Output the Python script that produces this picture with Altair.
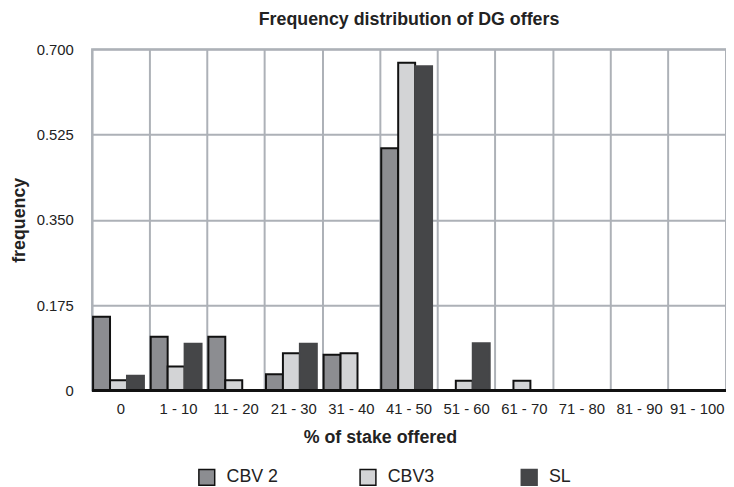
import altair as alt
import pandas as pd

categories = ["0", "1 - 10", "11 - 20", "21 - 30", "31 - 40", "41 - 50",
              "51 - 60", "61 - 70", "71 - 80", "81 - 90", "91 - 100"]
series = ["CBV 2", "CBV3", "SL"]
cbv2 = [0.151, 0.110, 0.110, 0.033, 0.073, 0.497, 0.0, 0.0, 0.0, 0.0, 0.0]
cbv3 = [0.021, 0.049, 0.021, 0.076, 0.076, 0.672, 0.020, 0.020, 0.0, 0.0, 0.0]
sl = [0.030, 0.096, 0.0, 0.096, 0.0, 0.665, 0.097, 0.0, 0.0, 0.0, 0.0]
fills = ["#8c8d91", "#d3d4d6", "#454648"]
strokes = ["#111111", "#111111", "#454648"]
y_ticks = [0, 0.175, 0.35, 0.525, 0.7]

rows = []
for name, vals in zip(series, [cbv2, cbv3, sl]):
    for c, v in zip(categories, vals):
        if v > 0:
            rows.append({"offer": c, "series": name, "freq": v})
df = pd.DataFrame(rows)

FONT = "Liberation Sans"

bars = alt.Chart(df).mark_bar(strokeWidth=2).encode(
    x=alt.X("offer:N", sort=categories,
            scale=alt.Scale(domain=categories, paddingInner=0, paddingOuter=0),
            axis=alt.Axis(title="% of stake offered", labelAngle=0, ticks=False,
                          domain=False, grid=True, bandPosition=0,
                          gridColor="#adb1b7", gridWidth=2,
                          labelFontSize=15, labelPadding=11, labelColor="#222222",
                          titleFontSize=18, titleFontWeight="bold", titlePadding=13,
                          titleX=291, titleAnchor="middle", titleAlign="center")),
    xOffset=alt.XOffset("series:N", sort=series,
                        scale=alt.Scale(domain=series, paddingInner=0,
                                        paddingOuter=0.2, align=0.15)),
    y=alt.Y("freq:Q",
            scale=alt.Scale(domain=[0, 0.7], nice=False, zero=True),
            axis=alt.Axis(title="frequency", values=y_ticks, domain=False,
                          ticks=False, grid=True, gridColor="#adb1b7", gridWidth=2,
                          labelExpr="datum.value == 0 ? '0' : format(datum.value, '.3f')",
                          labelFontSize=15, labelPadding=19, labelColor="#222222",
                          titleFontSize=18, titleFontWeight="bold", titlePadding=8)),
    fill=alt.Fill("series:N", sort=series,
                  scale=alt.Scale(domain=series, range=fills),
                  legend=alt.Legend(title=None, orient="none", direction="horizontal",
                                    legendX=107, legendY=424, columns=3,
                                    gridAlign="all", columnPadding=79,
                                    symbolType="square", symbolSize=256,
                                    symbolStrokeWidth=1.5, symbolStrokeColor="#111111",
                                    labelFontSize=18, labelOffset=11,
                                    labelColor="#222222", padding=0)),
    stroke=alt.Stroke("series:N", sort=series,
                      scale=alt.Scale(domain=series, range=strokes), legend=None),
)

baseline = alt.Chart(pd.DataFrame({"y": [0]})).mark_rule(
    color="#111111", strokeWidth=3).encode(y="y:Q")

chart = alt.layer(bars, baseline).properties(
    width=641, height=345,
    title=alt.Title("Frequency distribution of DG offers", fontSize=18,
                    fontWeight="bold", font=FONT, offset=13, color="#222222"),
    autosize=alt.AutoSizeParams(type="none"),
    padding={"left": 85, "top": 39, "right": 0, "bottom": 95},
).configure(font=FONT).configure_view(
    stroke="#adb1b7", strokeWidth=2
).configure_axis(labelFont=FONT, titleFont=FONT, titleColor="#222222"
).configure_legend(labelFont=FONT)

chart.save("out.html", embed_options={"renderer": "svg", "actions": False})
